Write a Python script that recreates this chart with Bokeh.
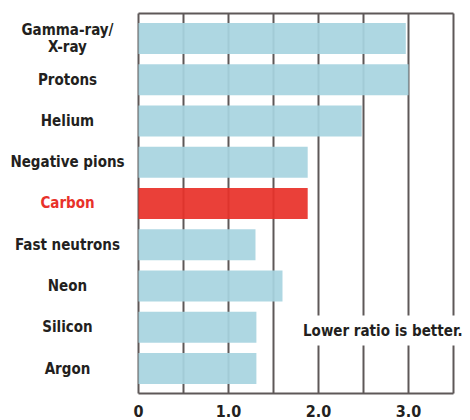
from bokeh.plotting import figure
from bokeh.models import Range1d, ColumnDataSource, Label
from bokeh.core.properties import value
from bokeh.embed import file_html
from bokeh.resources import INLINE

categories = ["Gamma-ray/\nX-ray", "Protons", "Helium", "Negative pions", "Carbon",
              "Fast neutrons", "Neon", "Silicon", "Argon"]
ratios = [2.97, 3.0, 2.48, 1.88, 1.88, 1.30, 1.60, 1.31, 1.31]
highlight = "Carbon"
tick_values = [0, 1, 2, 3]
tick_labels = ["0", "1.0", "2.0", "3.0"]
grid_values = [0, 0.5, 1.0, 1.5, 2.0, 2.5, 3.0, 3.5]
x_max = 3.5
note = "Lower ratio is better."

FONT_NAME = "'Liberation Sans Narrow', 'DejaVu Sans Condensed', 'Roboto', sans-serif"
FONT = value(FONT_NAME)
BLUE = "#a8d4e0"
RED = "#e8312a"
GRID = "#5e5858"

n = len(categories)
idx = list(range(n))
y_top = -0.606
y_bot = n - 1 + 0.606

p = figure(width=470, height=420, output_backend="svg", toolbar_location=None,
           x_range=Range1d(-1.5333, 3.6889), y_range=Range1d(9.2606, -0.9212),
           min_border=0, outline_line_color=None)
p.axis.visible = False
p.grid.visible = False

# grid / frame
p.segment(x0=grid_values, x1=grid_values, y0=[y_top] * len(grid_values), y1=[y_bot] * len(grid_values),
          line_color=GRID, line_width=2)
p.segment(x0=[0, 0], x1=[x_max, x_max], y0=[y_top, y_bot], y1=[y_top, y_bot],
          line_color=GRID, line_width=2)

colors = [RED if c == highlight else BLUE for c in categories]
src = ColumnDataSource(dict(y=idx, right=ratios, color=colors,
                            label=categories,
                            lcolor=[RED if c == highlight else "#231f20" for c in categories]))
p.hbar(y="y", left=0, right="right", height=0.75, fill_color="color", fill_alpha=0.93,
       line_color=None, source=src)

p.text(x=-0.789, y="y", text="label", text_color="lcolor", text_font=FONT,
       text_font_style="bold", text_font_size="15px", text_align="center",
       text_baseline="middle", text_line_height=0.95, source=src)

p.text(x=tick_values, y=[9.03] * len(tick_values), text=tick_labels, text_font=FONT,
       text_font_style="bold", text_font_size="16px", text_align="center",
       text_baseline="middle", text_color="#231f20")

p.add_layout(Label(x=3.667, y=7.08, text=note, text_font=FONT_NAME, text_font_style="bold",
                   text_font_size="15px", text_align="right", text_baseline="middle",
                   text_color="#231f20", background_fill_color="white",
                   background_fill_alpha=1.0, padding=6))

open("out.html", "w").write(file_html(p, INLINE))
